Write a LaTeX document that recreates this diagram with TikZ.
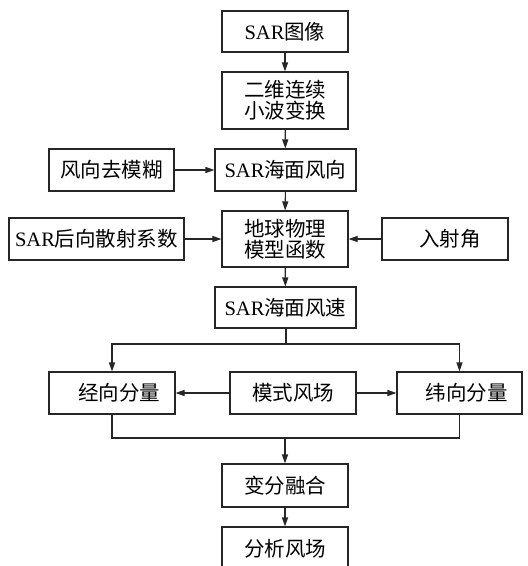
\documentclass[tikz,border=0pt]{standalone}
\usepackage{fontspec}
\setmainfont{Liberation Serif}
\newfontfamily\cjk{Noto Sans CJK SC}
\usetikzlibrary{arrows.meta}
\newcommand\myboxfont{\fontsize{20.5}{21}\selectfont\setlength{\lineskiplimit}{-50pt}}
\begin{document}
\begin{tikzpicture}[x=1pt,y=-1pt,
  box/.style={draw=black!85, line width=1.1pt, fill=white, inner sep=0pt, align=center,
    font=\myboxfont},
  conn/.style={draw=black!85, line width=1.1pt},
  arr/.style={conn, -{Triangle[length=9pt,width=6pt]}}]
\useasboundingbox (0,0) rectangle (528,566);
\fill[white] (0,0) rectangle (528,566);
\node[box, minimum width=126, minimum height=41] (n1) at (285,31.5) {SAR{\cjk 图像}};
\node[box, minimum width=126, minimum height=57] (n2) at (285,100.5) {\cjk 二维连续\\\cjk 小波变换};
\node[box, minimum width=141, minimum height=42] (n3) at (285.5,170) {SAR{\cjk 海面风向}};
\node[box, minimum width=125, minimum height=42] (n0) at (111.5,170) {\cjk 风向去模糊};
\node[box, minimum width=126, minimum height=56] (n4) at (285,239) {\cjk 地球物理\\\cjk 模型函数};
\node[box, minimum width=175, minimum height=42] (nb) at (96.5,239) {SAR{\cjk 后向散射系数}};
\node[box, minimum width=126, minimum height=42] (ni) at (445,239) {\hspace*{10pt}{\cjk 入射角}};
\node[box, minimum width=141, minimum height=41] (n5) at (285.5,307.5) {SAR{\cjk 海面风速}};
\node[box, minimum width=126, minimum height=42] (nj) at (112,393) {\hspace*{14pt}{\cjk 经向分量}};
\node[box, minimum width=126, minimum height=42] (nm) at (293,393) {\cjk 模式风场};
\node[box, minimum width=125, minimum height=42] (nw) at (459.5,393) {\hspace*{14pt}{\cjk 纬向分量}};
\node[box, minimum width=126, minimum height=43] (n6) at (285,485.5) {\cjk 变分融合};
\node[box, minimum width=126, minimum height=44] (n7) at (285,549) {\cjk 分析风场};
\coordinate (split) at (286,344);
\coordinate (merge) at (285,438);
\draw[arr] (n1) -- (n2);
\draw[arr] (n2) -- (n3);
\draw[arr] (n0) -- (n3);
\draw[arr] (n3) -- (n4);
\draw[arr] (nb) -- (n4);
\draw[arr] (ni) -- (n4);
\draw[arr] (n4) -- (n5);
\draw[conn] (n5.south -| split) -- (split);
\draw[arr] (split) -| (nj.north);
\draw[arr] (split) -| (nw.north);
\draw[arr] (nm) -- (nj);
\draw[arr] (nm) -- (nw);
\draw[conn] (nj.south) |- (merge) -| (nw.south);
\draw[arr] (merge) -- (n6);
\draw[arr] (n6) -- (n7);
\end{tikzpicture}
\end{document}
